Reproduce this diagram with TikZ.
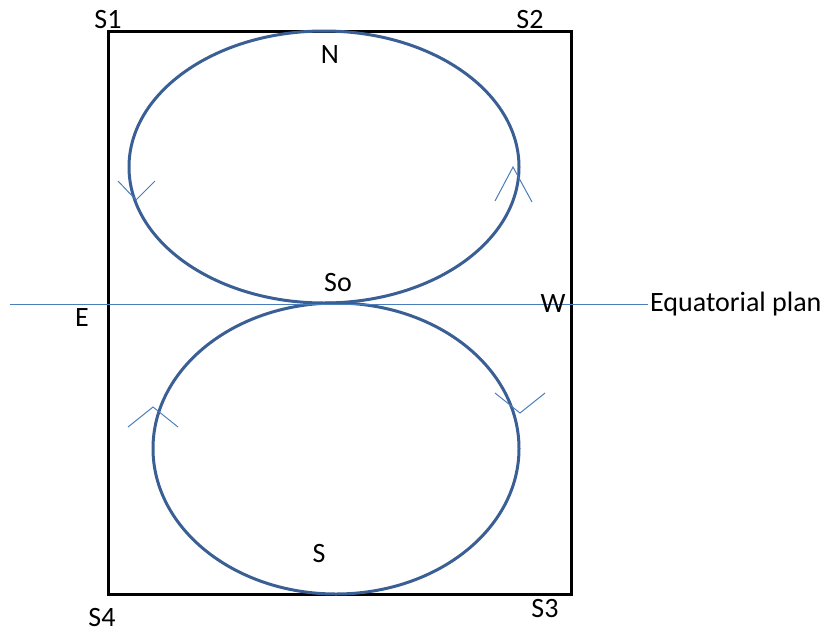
\documentclass[tikz,border=0pt]{standalone}
\usepackage{fontspec}
\setmainfont{Carlito}
\begin{document}
\begin{tikzpicture}[x=1pt,y=-1pt,
  lbl/.style={inner sep=0pt,font=\fontsize{28}{30}\selectfont},
  orbit/.style={draw=orbitblue,line width=3pt},
  thin/.style={draw=lineblue,line width=1pt},
  frame/.style={draw=black,line width=3pt}]
\definecolor{orbitblue}{HTML}{3A5F94}
\definecolor{lineblue}{HTML}{4A7EBB}
\useasboundingbox (0,0) rectangle (827,630);
% frame
\coordinate (c1) at (108,31);
\coordinate (c3) at (571,594);
\draw[frame] (c1) rectangle (c3);
% orbits
\draw[orbit] (324,167) ellipse [x radius=195,y radius=136];
\draw[orbit] (336,448.5) ellipse [x radius=183,y radius=145.5];
% equatorial line
\coordinate (eqL) at (10,304);
\coordinate (eqR) at (648,304);
\draw[thin] (eqL) -- (eqR);
% direction marks
\draw[thin] (118,181) -- (136,200) -- (155,181);
\draw[thin] (495,201) -- (513,167) -- (532,202);
\draw[thin] (128,427) -- (153,407) -- (178,427);
\draw[thin] (495,393) -- (520,413) -- (545,393);
% labels
\node[lbl] (s1) at (108,20) {S1};
\node[lbl] (s2) at (530,20) {S2};
\node[lbl] (s3) at (545,608) {S3};
\node[lbl] (s4) at (102,617) {S4};
\node[lbl] (n) at (330,55) {N};
\node[lbl] (so) at (338,283) {So};
\node[lbl] (e) at (82,318) {E};
\node[lbl] (w) at (553,304) {W};
\node[lbl] (s) at (319,553) {S};
\node[lbl,anchor=west] (eq) at (650,304) {Equatorial plan};
\end{tikzpicture}
\end{document}
